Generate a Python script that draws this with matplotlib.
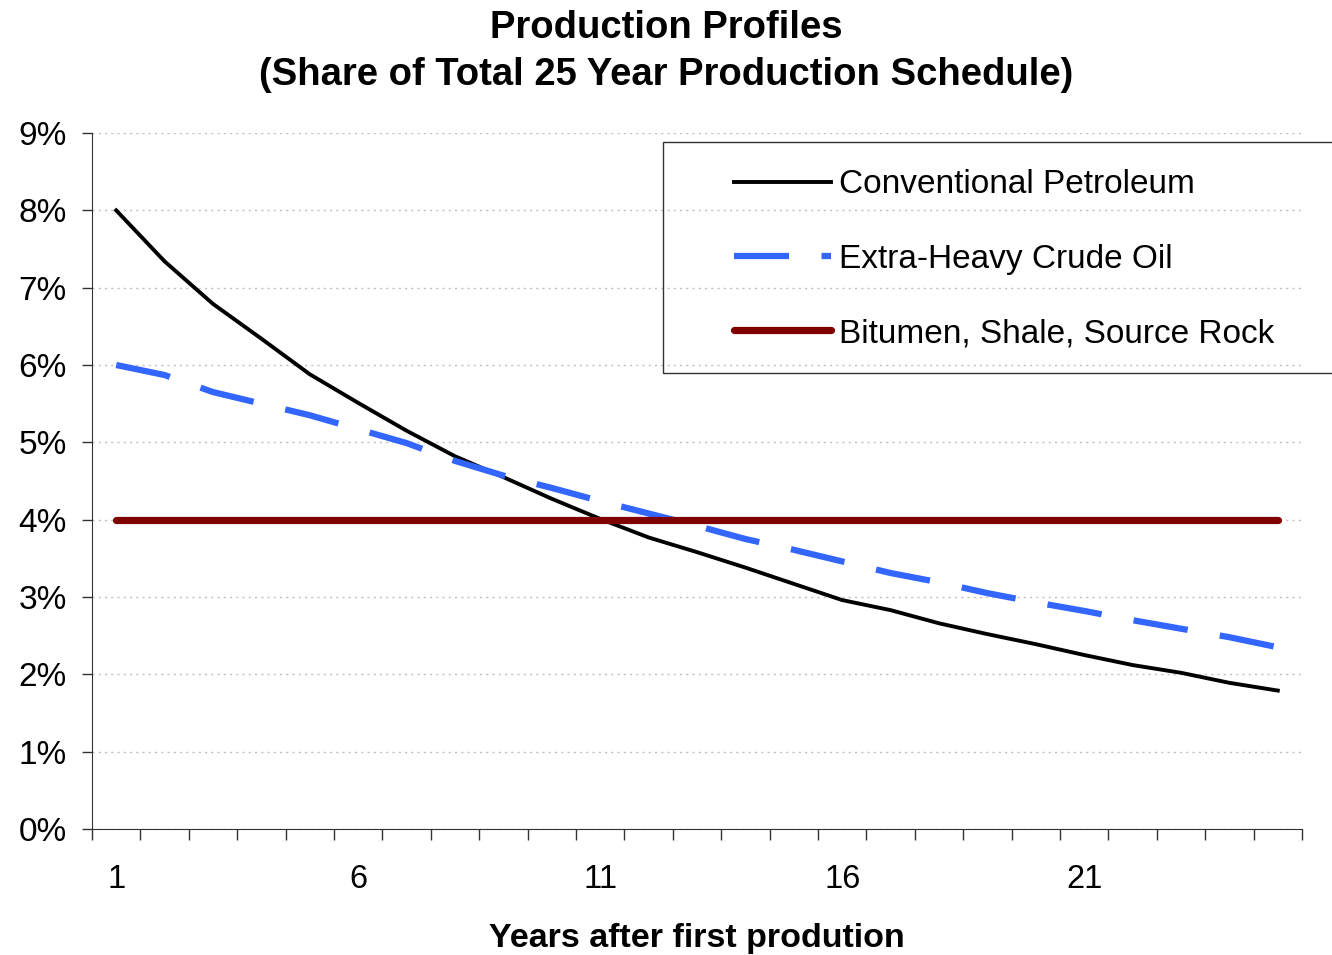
import matplotlib
matplotlib.use('Agg')
import matplotlib.pyplot as plt
from matplotlib.patches import Rectangle

plt.rcParams['font.family'] = ['Liberation Sans', 'DejaVu Sans']

# 資料 (percent of total 25 year production)
years = list(range(1, 26))
conventional = [8.00, 7.34, 6.79, 6.34, 5.88, 5.51, 5.15, 4.82, 4.55, 4.27,
                4.01, 3.77, 3.58, 3.38, 3.17, 2.96, 2.83, 2.66, 2.52, 2.39,
                2.25, 2.12, 2.02, 1.89, 1.79]
extra_heavy = [6.00, 5.87, 5.65, 5.50, 5.35, 5.17, 4.99, 4.76, 4.57, 4.41,
               4.24, 4.08, 3.92, 3.75, 3.61, 3.46, 3.31, 3.19, 3.05, 2.93,
               2.82, 2.70, 2.59, 2.48, 2.35]
bitumen = [4.0, 4.0, 4.0, 4.0, 4.0, 4.0, 4.0, 4.0, 4.0, 4.0,
           4.0, 4.0, 4.0, 4.0, 4.0, 4.0, 4.0, 4.0, 4.0, 4.0,
           4.0, 4.0, 4.0, 4.0, 4.0]
series_names = ['Conventional Petroleum', 'Extra-Heavy Crude Oil',
                'Bitumen, Shale, Source Rock']
y_ticks = [0, 1, 2, 3, 4, 5, 6, 7, 8, 9]
y_tick_labels = ['0%', '1%', '2%', '3%', '4%', '5%', '6%', '7%', '8%', '9%']
x_tick_years = [1, 6, 11, 16, 21]

W, H = 1332, 955
fig = plt.figure(figsize=(W / 100, H / 100), dpi=100)
ax = fig.add_axes([92 / W, 1 - 829 / H, (1302 - 92) / W, (829 - 133) / H])

# 繪製線條
ax.plot(years, conventional, color='black', lw=2.8, label=series_names[0],
        solid_joinstyle='round', zorder=3)
ax.plot(years, extra_heavy, color='#3366FF', lw=4.5, dashes=(8.8, 5.2),
        label=series_names[1], zorder=3)
ax.plot(years, bitumen, color='#800000', lw=5.2, solid_capstyle='round',
        label=series_names[2], zorder=3)

ax.set_xlim(0.5, 25.5)
ax.set_ylim(0, 9)

# 座標軸
ax.set_yticks(y_ticks)
ax.set_yticklabels(y_tick_labels, fontsize=24)
ax.tick_params(axis='y', direction='out', length=7, width=1, pad=11)
ax.set_xticks(x_tick_years)
ax.set_xticklabels([str(v) for v in x_tick_years], fontsize=23.5)
ax.set_xticks([y - 0.5 for y in years] + [25.5], minor=True)
ax.tick_params(axis='x', which='major', length=0, pad=25)
ax.tick_params(axis='x', which='minor', direction='out', length=8, width=1)

for s in ['top', 'right']:
    ax.spines[s].set_visible(False)
ax.spines['left'].set_color('#333333')
ax.spines['bottom'].set_color('#333333')
ax.tick_params(colors='#333333', labelcolor='black', which='both')

ax.grid(axis='y', linestyle=(0, (1.5, 3)), color='#BFBFBF', lw=1)
ax.set_axisbelow(True)

# 標題
fig.text(0.5, 1 - 28 / H, 'Production Profiles', ha='center', va='center',
         fontsize=27.5, fontweight='bold')
fig.text(0.5, 1 - 75 / H, '(Share of Total 25 Year Production Schedule)',
         ha='center', va='center', fontsize=27.5, fontweight='bold')
fig.text(697 / W, 1 - 938 / H, 'Years after first prodution', ha='center',
         va='center', fontsize=24.5, fontweight='bold')

# 圖例
fig.patches.append(Rectangle((663 / W, 1 - 373 / H), (W - 663) / W + 0.01,
                             (373 - 142) / H, transform=fig.transFigure,
                             fill=False, edgecolor='#333333', lw=1))
leg = fig.legend(loc='upper left', bbox_to_anchor=(721 / W, 1 - 156 / H),
                 frameon=False, fontsize=24, handlelength=2.9,
                 handletextpad=0.24, labelspacing=1.3, borderaxespad=0)

fig.savefig('out.png', dpi=100)
